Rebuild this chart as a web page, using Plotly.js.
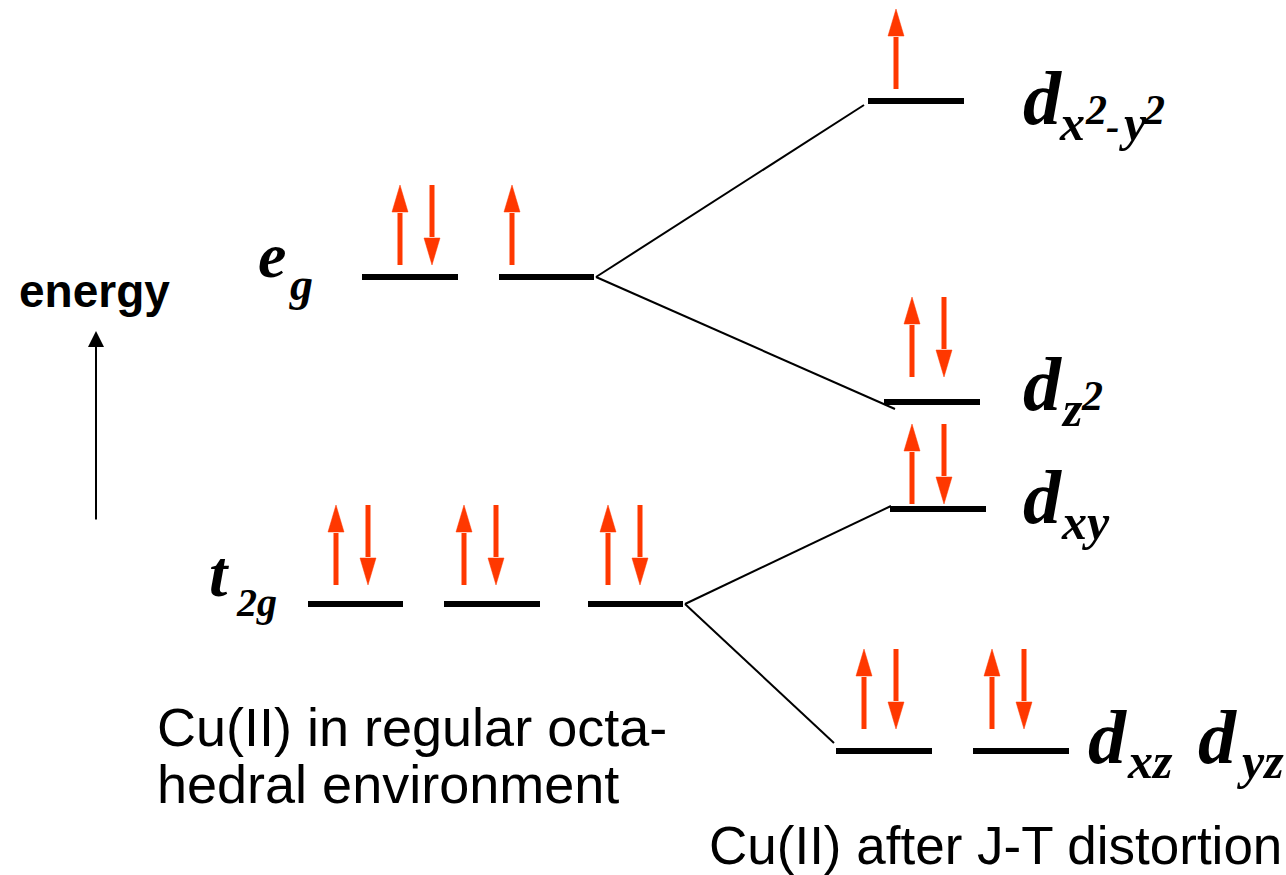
<!DOCTYPE html>
<html>
<head>
<meta charset="utf-8">
<script src="https://cdn.plot.ly/plotly-3.0.1.min.js"></script>
<style>html,body{margin:0;padding:0;background:#fff;}#chart{width:1286px;height:875px;}</style>
</head>
<body>
<div id="chart"></div>
<script>
// ---------- data ----------
const levelNames   = ['e_g (1)', 'e_g (2)', 't_2g (1)', 't_2g (2)', 't_2g (3)', 'd_x2-y2', 'd_z2', 'd_xy', 'd_xz', 'd_yz'];
const levelEnergy  = [598, 598, 271, 271, 271, 774, 473, 366, 124, 124];
const levelStart   = [362, 499, 308, 444, 588, 868, 884, 890, 836, 973];
const levelEnd     = [458, 594, 403, 540, 683, 964, 980, 986, 932, 1069];
const spinUp       = [1, 1, 1, 1, 1, 1, 1, 1, 1, 1];
const spinDown     = [1, 0, 1, 1, 1, 0, 1, 1, 1, 1];
const electronX    = [400, 512, 336, 464, 608, 896, 912, 912, 864, 992];
const electronBase = [610, 610, 290, 290, 290, 786, 498, 371, 146, 146];
const splitFrom    = [1, 1, 4, 4];
const splitTo      = [5, 6, 7, 8];
const splitEndDx   = [-4, 11, 1, -2];
const splitEndDE   = [-4, -7, 3, 8];

// ---------- layout helpers ----------
const W = 1286, H = 875;
const RED = '#ff3800';
const arrowLen = 80, headLen = 27, headHalf = 8, pairGap = 32;

const traces = [];

// energy levels
const lx = [], ly = [];
levelNames.forEach((n, i) => {
  lx.push(levelStart[i], levelEnd[i], null);
  ly.push(levelEnergy[i], levelEnergy[i], null);
});
traces.push({x: lx, y: ly, mode: 'lines', line: {color: '#000', width: 6}, hoverinfo: 'skip'});

// splitting correlation lines
const cx = [], cy = [];
splitFrom.forEach((p, k) => {
  const c = splitTo[k];
  cx.push(levelEnd[p] + 2, levelStart[c] + splitEndDx[k], null);
  cy.push(levelEnergy[p], levelEnergy[c] + splitEndDE[k], null);
});
traces.push({x: cx, y: cy, mode: 'lines', line: {color: '#000', width: 2}, hoverinfo: 'skip'});

// electrons (spin arrows)
const sx = [], sy = [], hx = [], hy = [];
function addArrow(x, base, up) {
  const tip = up ? base + arrowLen : base;
  const tail = up ? base : base + arrowLen;
  const neck = up ? tip - headLen : tip + headLen;
  sx.push(x, x, null);
  sy.push(tail, up ? neck - 1 : neck + 1, null);
  hx.push(x - headHalf, x + headHalf, x, x - headHalf, null);
  hy.push(neck, neck, tip, neck, null);
}
levelNames.forEach((n, i) => {
  for (let k = 0; k < spinUp[i]; k++) addArrow(electronX[i], electronBase[i], true);
  for (let k = 0; k < spinDown[i]; k++) addArrow(electronX[i] + pairGap, electronBase[i], false);
});
traces.push({x: sx, y: sy, mode: 'lines', line: {color: RED, width: 5}, hoverinfo: 'skip'});
traces.push({x: hx, y: hy, mode: 'lines', fill: 'toself', fillcolor: RED, line: {color: RED, width: 0.5}, hoverinfo: 'skip'});

// ---------- text ----------
const SERIF = '"Liberation Serif", "Times New Roman", serif';
const SANS = '"Liberation Sans", Arial, sans-serif';
function txt(text, xLeft, baseY, size, family, weight, style) {
  const center = baseY - 0.34 * size;
  return {text: text, x: xLeft, y: H - center, xref: 'x', yref: 'y', xanchor: 'left', yanchor: 'middle',
          showarrow: false, borderpad: 0, borderwidth: 0,
          font: {family: family, size: size, color: '#000', weight: weight || 'normal', style: style || 'normal'}};
}
function lab(text, x, base, size) { return txt(text, x, base, size, SERIF, 'bold', 'italic'); }

const annotations = [
  txt('energy', 19, 307, 46, SANS, 'bold'),
  txt('Cu(II) in regular octa-', 157, 745, 54, SANS),
  txt('hedral environment', 157, 802, 54, SANS),
  txt('Cu(II) after J-T distortion', 709, 864, 53, SANS),
  lab('e', 258, 277, 64), lab('g', 289, 300, 46),
  lab('t', 209, 596, 66), lab('2g', 236, 616, 40),
  lab('d', 1023, 124, 76), lab('x', 1059, 140, 50), lab('2', 1085, 124, 42), lab('-', 1106, 140, 40), lab('y', 1119, 140, 50), lab('2', 1143, 124, 42),
  lab('d', 1023, 410, 76), lab('z', 1061, 426, 50), lab('2', 1081, 410, 42),
  lab('d', 1023, 523, 76), lab('xy', 1061, 539, 50),
  lab('d', 1088, 763, 76), lab('xz', 1127, 778, 50),
  lab('d', 1198, 763, 76), lab('yz', 1237, 778, 50),
  // energy axis arrow
  {x: 96, y: H - 331, ax: 96, ay: H - 521, xref: 'x', yref: 'y', axref: 'x', ayref: 'y', text: '',
   showarrow: true, arrowhead: 2, arrowwidth: 2, arrowsize: 1.6, arrowcolor: '#000'}
];

const layout = {
  width: W, height: H,
  margin: {l: 0, r: 0, t: 0, b: 0},
  paper_bgcolor: '#fff', plot_bgcolor: '#fff',
  showlegend: false,
  xaxis: {range: [0, W], visible: false, fixedrange: true},
  yaxis: {range: [0, H], visible: false, fixedrange: true},
  annotations: annotations
};

Plotly.newPlot('chart', traces, layout, {staticPlot: true, displayModeBar: false});
</script>
</body>
</html>
